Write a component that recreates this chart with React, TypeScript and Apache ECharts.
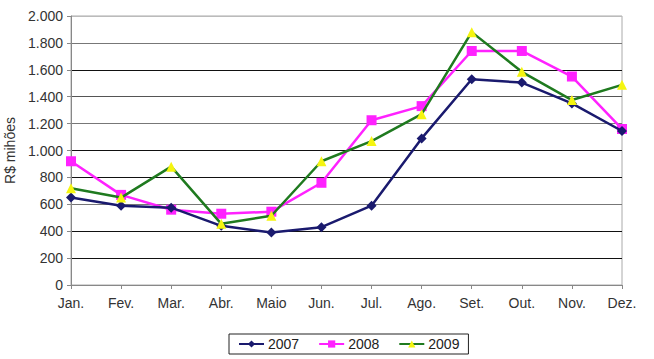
import React, { useEffect, useRef } from "react";
import * as echarts from "echarts";

const months = ["Jan.", "Fev.", "Mar.", "Abr.", "Maio", "Jun.", "Jul.", "Ago.", "Set.", "Out.", "Nov.", "Dez."];
const s2007 = [650, 590, 575, 440, 390, 430, 590, 1090, 1530, 1505, 1350, 1145];
const s2008 = [920, 670, 560, 530, 545, 760, 1225, 1330, 1740, 1740, 1550, 1160];
const s2009 = [720, 650, 880, 455, 515, 920, 1070, 1270, 1880, 1585, 1375, 1488];
const yTicks = { min: 0, max: 2000, interval: 200 };

const fmt = (v: number) => String(v).replace(/\B(?=(\d{3})+(?!\d))/g, ".");

export default function App() {
  const ref = useRef<HTMLDivElement>(null);
  useEffect(() => {
    const chart = echarts.init(ref.current!, undefined, { renderer: "svg" });
    const font = "Arial, 'Liberation Sans', sans-serif";
    chart.setOption({
      animation: false,
      backgroundColor: "#fff",
      textStyle: { fontFamily: font },
      grid: {
        left: 71, right: 32, top: 16, bottom: 74,
        outerBoundsMode: "none",
        containLabel: false,
        show: true, borderColor: "#aaa", borderWidth: 1,
      },
      xAxis: {
        type: "category",
        data: months,
        boundaryGap: false,
        axisLine: { lineStyle: { color: "#888", width: 1 } },
        axisTick: { show: true, length: 4, lineStyle: { color: "#888" } },
        axisLabel: { color: "#333", fontSize: 14, margin: 11, fontFamily: font },
        splitLine: { show: false },
      },
      yAxis: {
        type: "value",
        min: yTicks.min,
        max: yTicks.max,
        interval: yTicks.interval,
        name: "R$ mihões",
        nameLocation: "middle",
        nameGap: 50,
        nameRotate: 90,
        nameTextStyle: { color: "#333", fontSize: 14, fontFamily: font },
        axisLine: { show: true, lineStyle: { color: "#888", width: 1 } },
        axisTick: { show: true, length: 4, lineStyle: { color: "#888" } },
        axisLabel: { color: "#333", fontSize: 14, margin: 8, formatter: (v: number) => fmt(v), fontFamily: font },
        splitLine: {
          show: true,
          lineStyle: {
            color: ["#888", "#111", "#111", "#777", "#111", "#111", "#777", "#555", "#111", "#777", "#bbb"],
            width: 1,
          },
        },
      },
      legend: {
        left: 229,
        top: 334,
        itemWidth: 25,
        itemHeight: 9,
        itemGap: 19,
        borderColor: "#222",
        borderWidth: 1,
        borderRadius: 0,
        padding: [3, 9, 3, 9],
        textStyle: { color: "#222", fontSize: 14, fontFamily: font, padding: [0, 0, 0, -1] },
        data: ["2007", "2008", "2009"],
      },
      series: [
        {
          name: "2007",
          type: "line",
          data: s2007,
          symbol: "diamond",
          symbolSize: 10,
          lineStyle: { color: "#1a1a6e", width: 2.5 },
          itemStyle: { color: "#1a1a6e" },
          z: 4,
        },
        {
          name: "2008",
          type: "line",
          data: s2008,
          symbol: "rect",
          symbolSize: 10,
          lineStyle: { color: "#ff22ff", width: 2.5 },
          itemStyle: { color: "#ff22ff" },
          z: 3,
        },
        {
          name: "2009",
          type: "line",
          data: s2009,
          symbol: "triangle",
          symbolSize: 10,
          lineStyle: { color: "#1f7a1f", width: 2.5 },
          itemStyle: { color: "#f5f510" },
          z: 5,
        },
      ],
    });
    return () => chart.dispose();
  }, []);
  return <div ref={ref} style={{ width: 654, height: 359, position: "absolute", left: 0, top: 0 }} />;
}
